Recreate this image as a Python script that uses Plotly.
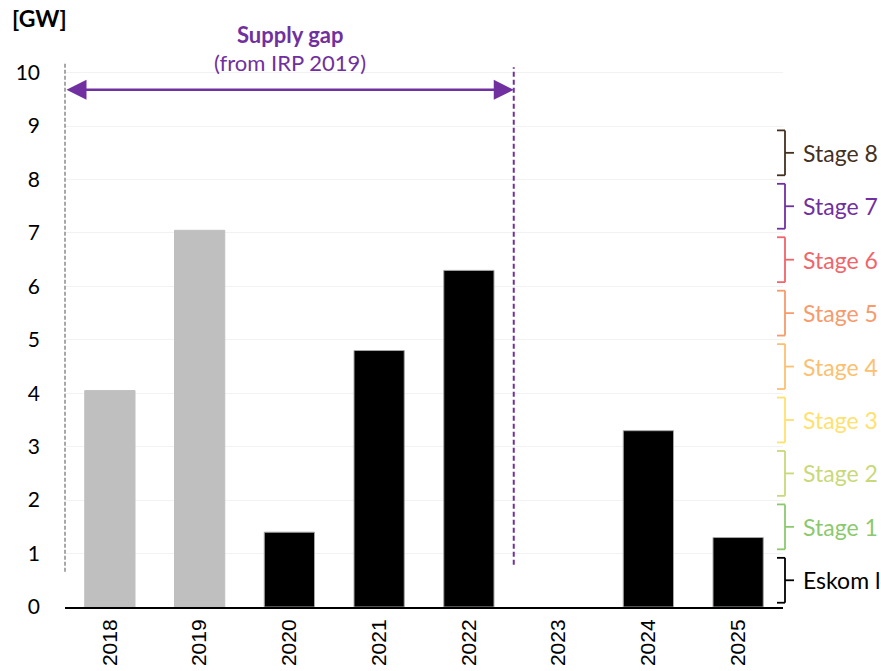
import plotly.graph_objects as go

# Annual values [GW]
years = ["2018", "2019", "2020", "2021", "2022", "2023", "2024", "2025"]
values = [4.05, 7.05, 1.4, 4.8, 6.3, 0.0, 3.3, 1.3]
bar_colors = ["#bfbfbf", "#bfbfbf", "#000000", "#000000", "#000000", "#000000", "#000000", "#000000"]
line_colors = ["#bfbfbf", "#bfbfbf", "#a6a6a6", "#a6a6a6", "#a6a6a6", "#a6a6a6", "#a6a6a6", "#a6a6a6"]

# Load-shedding bands (1 GW each, from the bottom up)
stage_labels = ["Eskom load shedding", "Stage 1", "Stage 2", "Stage 3", "Stage 4",
                "Stage 5", "Stage 6", "Stage 7", "Stage 8"]
stage_colors = ["#000000", "#8cc96e", "#c9d97a", "#ffe16e", "#fcc070",
                "#f79a6c", "#f0646a", "#7030a0", "#44301f"]
stage_base = [0, 1, 2, 3, 4, 5, 6, 7, 8]

y_max = 10.2
gap_start, gap_end, gap_level = -0.5, 4.5, 9.68

PURPLE = "#7030a0"
CAL = "Lato, 'Open Sans', sans-serif"

fig = go.Figure()
fig.add_trace(go.Bar(
    x=years, y=values, width=0.56,
    marker=dict(color=bar_colors,
                line=dict(color=line_colors, width=[1 if v > 0 else 0 for v in values])),
    showlegend=False, hoverinfo="x+y",
))

shapes = []
annotations = []

# Left boundary of the supply-gap window
shapes.append(dict(type="line", xref="paper", yref="y", x0=0, x1=0,
                   y0=0.66, y1=y_max, line=dict(color="#8c8c8c", width=1.5, dash="4px,2px")))
# Right boundary of the supply-gap window
shapes.append(dict(type="line", xref="x", yref="y", x0=gap_end, x1=gap_end,
                   y0=0.79, y1=10.1, line=dict(color=PURPLE, width=2, dash="5px,3px")))

# Double-headed arrow across the supply gap
annotations.append(dict(x=gap_end, y=gap_level, ax=gap_start, ay=gap_level,
                        xref="x", yref="y", axref="x", ayref="y", text="",
                        showarrow=True, arrowside="end+start", arrowhead=2,
                        arrowsize=1.6, arrowwidth=2.5, arrowcolor=PURPLE))
annotations.append(dict(x=290, y=34, xref="paper", yref="paper", text="<b>Supply gap</b>",
                        showarrow=False, xanchor="center", yanchor="middle",
                        font=dict(family=CAL, size=22, color=PURPLE)))
annotations.append(dict(x=290, y=62, xref="paper", yref="paper", text="(from IRP 2019)",
                        showarrow=False, xanchor="center", yanchor="middle",
                        font=dict(family=CAL, size=22, color=PURPLE)))
annotations.append(dict(x=10, y=18, xref="paper", yref="paper", text="<b>[GW]</b>",
                        showarrow=False, xanchor="left", yanchor="middle",
                        font=dict(family=CAL, size=23, color="#000")))

# Curly-style brackets with labels on the right of the plot
plot_l, plot_r = 65, 783
def px_to_paper(px):
    return (px - plot_l) / (plot_r - plot_l)

x_hook = px_to_paper(777)
x_spine = px_to_paper(785)
x_tip = px_to_paper(794)
for lab, col, base in zip(stage_labels, stage_colors, stage_base):
    lo, hi, mid = base + 0.08, base + 0.92, base + 0.5
    shapes.append(dict(type="line", xref="paper", yref="y", x0=x_hook, x1=x_spine,
                       y0=hi, y1=hi, line=dict(color=col, width=1.8)))
    shapes.append(dict(type="line", xref="paper", yref="y", x0=x_spine, x1=x_spine,
                       y0=lo, y1=hi, line=dict(color=col, width=1.8)))
    shapes.append(dict(type="line", xref="paper", yref="y", x0=x_hook, x1=x_spine,
                       y0=lo, y1=lo, line=dict(color=col, width=1.8)))
    shapes.append(dict(type="line", xref="paper", yref="y", x0=x_spine, x1=x_tip,
                       y0=mid, y1=mid, line=dict(color=col, width=1.8)))
    annotations.append(dict(x=px_to_paper(801), y=mid, xref="paper", yref="y", text=lab,
                            showarrow=False, xanchor="left", yanchor="middle",
                            font=dict(family=CAL, size=23, color=col)))

# Convert pixel-positioned header texts to paper coordinates
H, W = 671, 881
plot_t, plot_b = 62, 607
for a in annotations:
    if a.get("xref") == "paper" and a.get("yref") == "paper":
        a["x"] = px_to_paper(a["x"])
        a["y"] = (plot_b - a["y"]) / (plot_b - plot_t)

fig.update_layout(
    width=W, height=H,
    margin=dict(l=plot_l, r=W - plot_r, t=plot_t, b=H - plot_b),
    paper_bgcolor="white", plot_bgcolor="white",
    shapes=shapes, annotations=annotations,
    xaxis=dict(type="category", range=[-0.5, 7.5], showgrid=False, automargin=False,
               showline=True, linecolor="#000", linewidth=2, ticks="",
               tickangle=-90, ticklabelstandoff=2,
               tickfont=dict(family="'Liberation Sans', Arial, sans-serif", size=21, color="#000")),
    yaxis=dict(range=[0, y_max], tickvals=list(range(0, 11)), showgrid=True, automargin=False,
               gridcolor="#f2f2f2", gridwidth=1, zeroline=False, showline=False,
               ticks="", ticklabelstandoff=24,
               tickfont=dict(family=CAL, size=21, color="#000")),
)

fig.write_html("out.html")
